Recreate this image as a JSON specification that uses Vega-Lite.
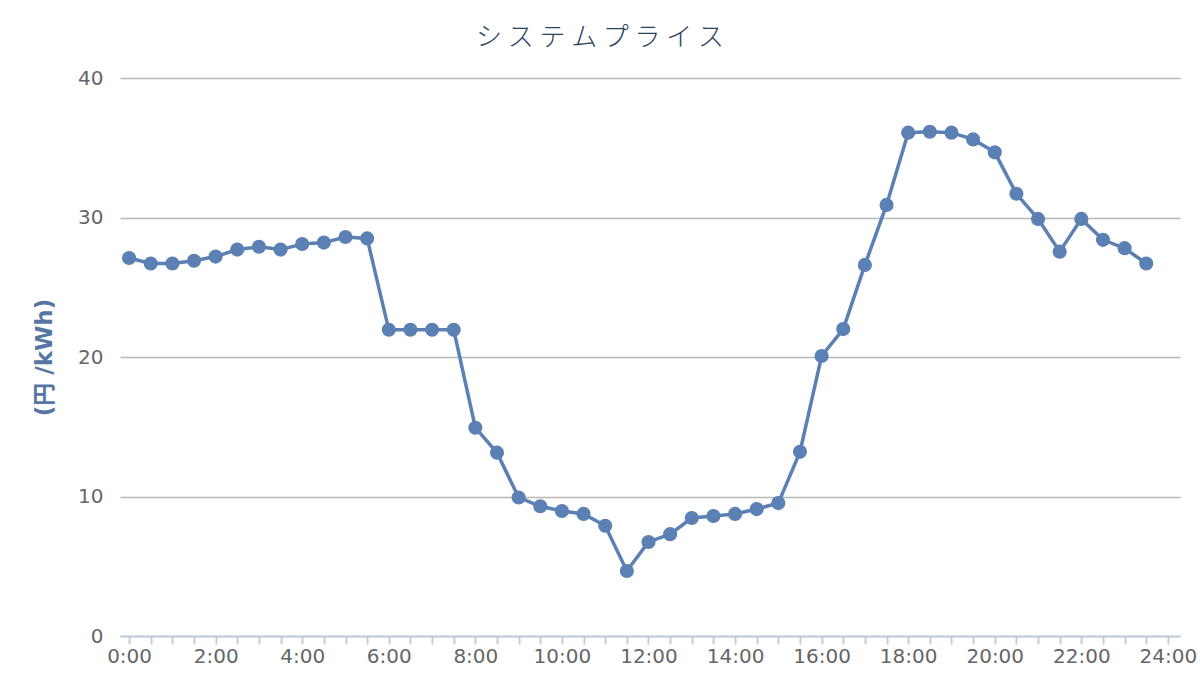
{
  "$schema": "https://vega.github.io/schema/vega-lite/v6.json",
  "width": 1060,
  "height": 558,
  "autosize": "none",
  "padding": {"left": 120, "top": 78, "right": 20, "bottom": 64},
  "background": "white",
  "title": {
    "text": "シ ス テ ム プ ラ イ ス",
    "font": "Noto Sans CJK JP",
    "fontWeight": 300,
    "fontSize": 26,
    "color": "#2a4360",
    "anchor": "middle",
    "dx": -50,
    "offset": 17
  },
  "data": {
    "values": [
      {"h": 0, "price": 27.1},
      {"h": 0.5, "price": 26.7},
      {"h": 1, "price": 26.7},
      {"h": 1.5, "price": 26.9},
      {"h": 2, "price": 27.2},
      {"h": 2.5, "price": 27.7},
      {"h": 3, "price": 27.9},
      {"h": 3.5, "price": 27.7},
      {"h": 4, "price": 28.1},
      {"h": 4.5, "price": 28.2},
      {"h": 5, "price": 28.6},
      {"h": 5.5, "price": 28.5},
      {"h": 6, "price": 21.95},
      {"h": 6.5, "price": 21.95},
      {"h": 7, "price": 21.95},
      {"h": 7.5, "price": 21.95},
      {"h": 8, "price": 14.93},
      {"h": 8.5, "price": 13.14},
      {"h": 9, "price": 9.93},
      {"h": 9.5, "price": 9.3},
      {"h": 10, "price": 8.96},
      {"h": 10.5, "price": 8.75},
      {"h": 11, "price": 7.9},
      {"h": 11.5, "price": 4.66},
      {"h": 12, "price": 6.74},
      {"h": 12.5, "price": 7.3},
      {"h": 13, "price": 8.46},
      {"h": 13.5, "price": 8.6},
      {"h": 14, "price": 8.75},
      {"h": 14.5, "price": 9.1},
      {"h": 15, "price": 9.53},
      {"h": 15.5, "price": 13.2},
      {"h": 16, "price": 20.07},
      {"h": 16.5, "price": 22.0},
      {"h": 17, "price": 26.6},
      {"h": 17.5, "price": 30.9},
      {"h": 18, "price": 36.08},
      {"h": 18.5, "price": 36.15},
      {"h": 19, "price": 36.08},
      {"h": 19.5, "price": 35.6},
      {"h": 20, "price": 34.67},
      {"h": 20.5, "price": 31.7},
      {"h": 21, "price": 29.9},
      {"h": 21.5, "price": 27.55},
      {"h": 22, "price": 29.9},
      {"h": 22.5, "price": 28.4},
      {"h": 23, "price": 27.8},
      {"h": 23.5, "price": 26.7}
    ]
  },
  "config": {
    "view": {"stroke": null},
    "axis": {"labelFont": "DejaVu Sans", "labelFontSize": 20, "labelColor": "#666666"}
  },
  "encoding": {
    "x": {
      "field": "h",
      "type": "quantitative",
      "scale": {"domain": [-0.21, 24.28], "nice": false, "zero": false},
      "axis": {
        "title": null,
        "grid": false,
        "values": [0,0.5,1,1.5,2,2.5,3,3.5,4,4.5,5,5.5,6,6.5,7,7.5,8,8.5,9,9.5,10,10.5,11,11.5,12,12.5,13,13.5,14,14.5,15,15.5,16,16.5,17,17.5,18,18.5,19,19.5,20,20.5,21,21.5,22,22.5,23,23.5,24],
        "labelExpr": "datum.value % 2 == 0 ? floor(datum.value) + ':00' : ''",
        "domainColor": "#c3cde0",
        "domainWidth": 2,
        "tickColor": "#c3cde0",
        "tickWidth": 2,
        "tickSize": 8,
        "labelPadding": 2,
        "labelOverlap": false,
        "labelFlush": false
      }
    },
    "y": {
      "field": "price",
      "type": "quantitative",
      "scale": {"domain": [0, 40], "nice": false},
      "axis": {
        "title": "(円 /kWh)",
        "titleFont": "DejaVu Sans, Noto Sans CJK JP",
        "titleFontSize": 23,
        "titleFontWeight": "bold",
        "titleColor": "#5677a3",
        "titleX": -76,
        "titleY": 279,
        "titleBaseline": "middle",
        "values": [0, 10, 20, 30, 40],
        "domain": false,
        "ticks": false,
        "labelPadding": 17,
        "gridColor": "#b8b8b8",
        "gridWidth": 1.5
      }
    }
  },
  "layer": [
    {"mark": {"type": "line", "color": "#5b80b4", "strokeWidth": 3.5}},
    {"mark": {"type": "point", "filled": true, "color": "#5b80b4", "size": 200, "opacity": 1}}
  ]
}
